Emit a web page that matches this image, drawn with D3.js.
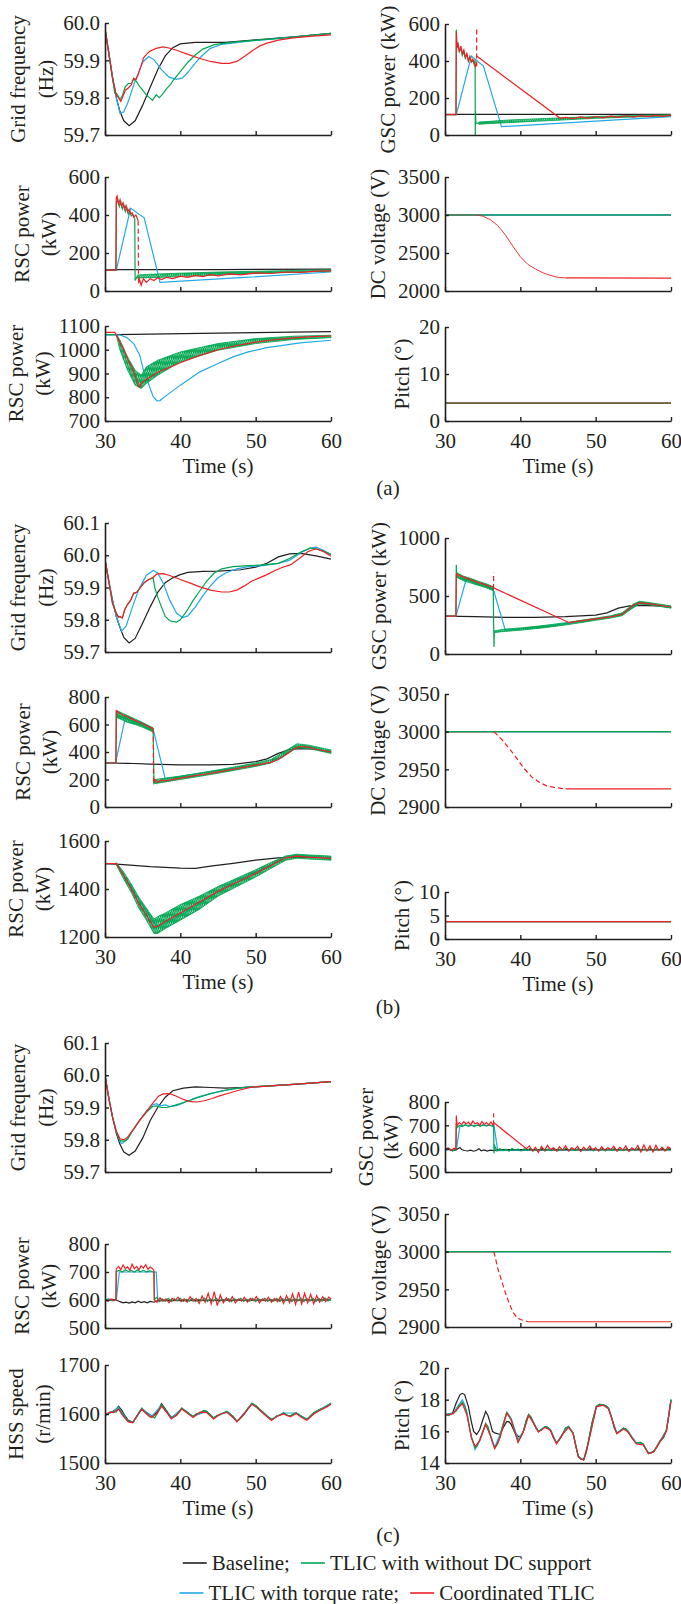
<!DOCTYPE html>
<html>
<head>
<meta charset="utf-8">
<script src="https://cdn.jsdelivr.net/npm/d3@7"></script>
<style>
  body { margin: 0; background: #fff; }
  svg { display: block; }
  text { font-family: "Liberation Serif", "Times New Roman", serif; fill: #231f20; }
</style>
</head>
<body>
<svg id="chart" width="681" height="1604"></svg>
<script>
// ---------- (a) ----------
const a1Base = [[30,59.985],[30.5,59.92],[31,59.855],[31.5,59.8],[32,59.762],[32.5,59.738],[33.2,59.725],[34,59.738],[35,59.78],[36,59.828],[37,59.875],[38,59.912],[39,59.934],[40,59.944],[42,59.948],[46,59.948],[50,59.955],[55,59.963],[60,59.972]];
const a1Blue = [[30,59.985],[30.5,59.92],[31,59.855],[31.5,59.8],[32,59.758],[32.5,59.762],[33,59.785],[34,59.845],[35,59.895],[35.8,59.91],[36.5,59.902],[37.5,59.875],[38.5,59.855],[39.5,59.849],[40.3,59.853],[41,59.868],[42,59.893],[43,59.915],[44,59.932],[45.5,59.943],[48,59.949],[52,59.957],[56,59.964],[60,59.972]];
const a1Green = [[30,59.985],[30.5,59.92],[31,59.85],[31.3,59.812],[31.6,59.81],[32,59.795],[32.3,59.805],[32.7,59.83],[33.1,59.838],[33.5,59.838],[33.8,59.85],[34.2,59.843],[34.6,59.83],[35,59.82],[35.5,59.807],[35.9,59.8],[36.3,59.793],[36.8,59.808],[37.2,59.8],[37.6,59.808],[38.2,59.825],[38.7,59.835],[39.1,59.848],[40,59.87],[41,59.895],[42,59.915],[43,59.93],[44.5,59.942],[47,59.949],[52,59.957],[56,59.964],[60,59.972]];
const a1Red = [[30,59.985],[30.5,59.92],[31,59.852],[31.5,59.807],[31.8,59.8],[32.1,59.79],[32.4,59.805],[32.7,59.82],[33.1,59.826],[33.5,59.835],[33.8,59.852],[34.1,59.848],[34.4,59.862],[34.8,59.885],[35.1,59.906],[35.6,59.918],[36,59.925],[36.8,59.932],[37.7,59.936],[38.5,59.933],[39.5,59.927],[41,59.916],[42.6,59.905],[44,59.897],[45.5,59.892],[46.5,59.892],[47.5,59.897],[48.5,59.91],[49.5,59.925],[50.5,59.938],[51.5,59.946],[53,59.954],[55,59.96],[57.5,59.965],[60,59.968]];

const a2Base = [[30,112],[45,113],[60,115]];
const a2Blue = [[30,110],[31.5,110],[33.4,435],[35.2,385],[37.3,45],[48,70],[60,100]];
const a2Green = [[30,110],[31.45,110],[31.5,470],[31.7,480],[31.9,445],[32.1,468],[32.3,432],[32.5,452],[32.7,418],[32.9,438],[33.1,405],[33.3,418],[33.5,395],[33.7,402],[33.95,380],[34,55],[34.3,78]];
const a2GreenBand = [[34.3,68,84],[36,70,88],[40,76,94],[45,84,100],[50,92,104],[55,98,108],[60,104,112]];
const a2Red = [[30,110],[31.45,110],[31.5,490],[31.6,500],[31.8,455],[32,480],[32.2,445],[32.4,465],[32.6,430],[32.8,450],[33,415],[33.2,430],[33.4,405],[33.6,412],[33.8,390],[34.1,400],[34.4,370]];
const a2RedDrop = [[34.4,370],[34.45,40]];
const a2RedTail = [[34.45,40],[34.6,60],[34.8,30],[35.1,65],[35.5,45],[36,65],[36.5,55],[37,70],[37.5,60],[38.2,72],[39,65],[40,78],[41,72],[42,82],[43,76],[44,86],[45,80],[46.5,90],[48,85],[50,95],[52,92],[54,100],[56,98],[58,105],[60,106]];

const a3Base = [[30,1064],[31.5,1064],[45,1070],[60,1076]];
const a3Blue = [[30,1063],[32,1062],[32.9,1051],[33.8,1026],[34.6,978],[35.1,914],[36.4,802],[36.9,785],[37.3,786],[38.2,809],[40,851],[42.6,907],[45,942],[47,970],[49,991],[51.5,1009],[55.9,1029],[60,1040]];
const a3GreenBand = [[31.5,1060,1066],[32,998,1040],[33,914,970],[34,851,914],[34.8,837,893],[35.5,858,928],[37,893,956],[40,949,991],[45,998,1026],[50,1026,1047],[55,1043,1057],[60,1051,1061]];
const a3Green = [[30,1064],[31.5,1064]];
const a3Red = [[30,1073],[31.3,1073],[31.5,1063],[32,1030],[32.5,1000],[33,960],[33.5,930],[34,892],[34.4,850],[34.6,842],[34.8,858],[35.2,868],[36,885],[37,905],[38.5,925],[40,945],[42.5,975],[45,1000],[47.5,1018],[50,1032],[52.5,1042],[55,1050],[57.5,1055],[60,1058]];

const a4Base = [[30,112],[60,112]];
const a4Blue = [[30,110],[31.5,110],[33.5,427],[35.1,373],[37.5,45],[60,99]];
const a4Green = [[30,110],[31.46,110],[31.5,570],[31.55,470],[31.7,500],[31.9,450],[32.1,470],[32.3,430],[32.5,450],[32.7,415],[32.9,435],[33.1,400],[33.3,420],[33.5,395],[33.7,400],[33.9,380],[34,410],[34.02,0],[34.05,130],[34.1,65],[34.5,64]];
const a4GreenBand = [[34.5,58,70],[36,62,74],[38,66,80],[40,70,84],[45,80,92],[50,90,100],[55,97,106],[60,103,110]];
const a4Red = [[30,110],[31.46,110],[31.5,560],[31.6,470],[31.7,500],[31.9,450],[32.1,480],[32.3,440],[32.5,460],[32.7,420],[32.9,440],[33.1,400],[33.3,425],[33.5,395],[33.7,410],[34,370],[34.2,390]];
const a4RedSpike = [[34.2,370],[34.2,580]];
const a4RedTail = [[34.2,427],[45.3,90],[46,95],[47,88],[48,98],[49,90],[50,100],[51,93],[52,102],[53,95],[54,104],[55,97],[56,105],[57,99],[58,106],[59,101],[60,107]];

const a5Flat = [[30,3000],[60,3000]];
const a5RedPre = [[30,3000],[34.2,3000]];
const a5RedFall = [[34.2,3000],[35,2985],[36,2940],[37,2860],[38,2740],[39,2590],[40,2450],[41,2350],[42,2290],[43,2240],[44,2205],[45,2180],[46,2172]];
const a5RedPost = [[46,2172],[60,2170]];

const a6Flat = [[30,3.8],[60,3.8]];

// ---------- (b) ----------
const b1Base = [[30,59.986],[30.5,59.92],[31,59.86],[31.5,59.81],[32,59.775],[32.5,59.745],[33.2,59.728],[34,59.742],[35,59.79],[36,59.84],[37,59.885],[38,59.915],[39,59.93],[40,59.94],[41,59.947],[43,59.95],[45,59.951],[48,59.955],[50,59.963],[51.5,59.975],[53,59.995],[54.5,60.004],[56,60.006],[58,59.998],[60,59.988]];
const b1Blue = [[30,59.986],[30.5,59.92],[31,59.86],[31.5,59.81],[32.2,59.765],[32.8,59.78],[33.5,59.83],[34.5,59.895],[35.5,59.938],[36.4,59.953],[37,59.945],[37.8,59.91],[38.6,59.86],[39.5,59.82],[40.3,59.807],[41,59.812],[42,59.84],[43,59.875],[44,59.905],[45,59.93],[46,59.945],[47.5,59.958],[49,59.965],[51,59.968],[53,59.975],[54.5,59.985],[56,60.008],[57.2,60.022],[58,60.025],[59,60.015],[60,60.002]];
const b1Green = [[30,59.986],[30.5,59.92],[31,59.85],[31.5,59.82],[31.8,59.808],[32,59.81],[32.3,59.805],[32.6,59.83],[33,59.848],[33.4,59.86],[33.8,59.882],[34.2,59.885],[34.7,59.9],[35.2,59.915],[35.8,59.925],[36.4,59.93],[36.6,59.9],[37,59.87],[37.5,59.84],[38,59.81],[38.6,59.797],[39,59.795],[39.5,59.793],[40,59.8],[40.8,59.825],[41.7,59.86],[42.6,59.89],[43.5,59.92],[44.5,59.945],[45.5,59.958],[47,59.965],[49,59.968],[51,59.97],[53,59.975],[54.5,59.99],[56,60.01],[57.2,60.022],[58,60.02],[59,60.012],[60,60.003]];
const b1Red = [[30,59.986],[30.5,59.92],[31,59.85],[31.5,59.82],[31.8,59.808],[32,59.81],[32.3,59.805],[32.6,59.83],[33,59.848],[33.4,59.86],[33.8,59.882],[34.2,59.885],[34.7,59.9],[35.2,59.915],[35.8,59.925],[36.4,59.932],[36.9,59.942],[37.7,59.943],[38.5,59.938],[40,59.925],[41.5,59.912],[42.6,59.902],[44,59.892],[45.5,59.886],[46.5,59.886],[47.5,59.892],[48.5,59.905],[49.5,59.92],[50.5,59.93],[51.5,59.94],[52.5,59.952],[53.5,59.962],[54.6,59.97],[55.8,59.99],[57,60.012],[58,60.02],[59,60.012],[60,59.997]];

const b2Base = [[30,320],[33,318],[36,312],[40,306],[44,306],[47,310],[50,330],[51.5,350],[53,390],[54.5,418],[56,425],[58,420],[60,405]];
const b2Blue = [[30,320],[31.4,320],[32.7,650],[36.4,565],[38,205],[42,240],[46,275],[50,300],[52,325],[53.5,360],[55,425],[56,440],[58,420],[60,400]];
const b2Green = [[30,320],[31.45,320],[31.5,700],[31.6,670],[36.4,555],[36.5,175],[36.6,185]];
const b2GreenBand = [[31.6,650,700],[32,640,690],[33,615,665],[34,600,640],[35,580,615],[36.4,545,575]];
const b2GreenBand2 = [[36.6,170,200],[40,200,225],[45,245,270],[50,295,320],[52,320,345],[54,380,410],[55.5,430,460],[57,425,450],[60,390,415]];
const b2Red = [[30,320],[31.45,320],[31.5,700],[32,680],[33,655],[34,630],[35,605],[36.4,570]];
const b2RedDrop = [[36.4,570],[36.45,175]];
const b2RedTail = [[36.45,175],[36.6,200],[37,180],[37.5,195],[38,190],[40,210],[42,228],[44,245],[46,265],[48,285],[50,305],[52,325],[53,345],[54,380],[55,420],[55.8,440],[57,435],[58,420],[60,400]];

const b3Base = [[30,1506],[32,1503],[36,1493],[40,1487],[42,1486],[44,1495],[47,1507],[50,1520],[53,1530],[56,1533],[60,1531]];
const b3Blue = [[30,1506],[31.5,1506],[36.5,1258],[37,1245],[38,1255],[40,1290],[42.6,1340],[45,1390],[47,1430],[49.5,1465],[51.5,1492],[53.7,1530],[55.5,1540],[57,1535],[60,1530]];
const b3GreenBand = [[31.5,1500,1510],[32.5,1440,1470],[33.5,1385,1420],[34.5,1320,1365],[35.5,1270,1320],[36.5,1215,1275],[37,1215,1285],[38,1235,1300],[40,1270,1335],[42.5,1315,1370],[45,1370,1410],[47.5,1410,1445],[50,1450,1480],[52,1485,1510],[54,1520,1538],[55.5,1528,1545],[57,1525,1542],[60,1520,1537]];
const b3Green = [[30,1506],[31.5,1506]];
const b3Red = [[30,1506],[31.5,1506],[32.5,1455],[33.5,1400],[34.5,1340],[35.5,1290],[36.5,1240],[37,1245],[38,1265],[40,1300],[42.5,1345],[45,1390],[47.5,1428],[50,1465],[52,1498],[54,1530],[55.5,1537],[57,1533],[60,1528]];

const b4Base = [[30,327],[34,322],[38,316],[42,315],[46,322],[50,335],[51.5,355],[53,395],[54.5,415],[56,420],[58,415],[60,405]];
const b4Blue = [[30,327],[31.45,327],[32.8,640],[36.4,560],[38,205],[42,228],[46,262],[50,300],[53,330],[55,400],[55.8,440],[57,430],[60,402]];
const b4Green = [[30,327],[31.45,327],[31.5,770],[31.55,670],[36.4,560],[36.5,60],[36.55,190]];
const b4GreenBand = [[31.55,660,700],[32.5,630,670],[33.5,610,650],[34.5,590,625],[35.5,570,605],[36.4,545,580]];
const b4GreenBand2 = [[36.55,185,200],[38,195,215],[40,205,225],[43,225,245],[46,250,270],[48,270,290],[50,290,310],[52,310,330],[53.5,330,355],[55,400,430],[55.8,430,455],[57,425,445],[60,395,415]];
const b4Red = [[30,327],[31.45,327],[31.5,690],[31.8,680],[33,650],[34.5,615],[36.4,575]];
const b4RedSpike = [[36.45,560],[36.45,700]];
const b4RedTail = [[36.45,570],[46.5,270],[48,285],[50,302],[52,320],[53.5,340],[55,420],[55.8,440],[57,435],[60,405]];

const b5Flat = [[30,3000],[60,3000]];
const b5RedPre = [[30,3000],[36.5,3000]];
const b5RedFall = [[36.5,3000],[37.5,2990],[38.5,2978],[39.5,2965],[40.5,2951],[41.5,2940],[42.5,2933],[43.5,2928],[44.5,2926],[46,2924]];
const b5RedPost = [[46,2924],[60,2924]];

const b6Flat = [[30,3.7],[60,3.7]];

// ---------- (c) ----------
const c1Base = [[30,60.0],[30.5,59.93],[31,59.87],[31.5,59.82],[32,59.785],[32.5,59.762],[33.2,59.752],[34,59.765],[35,59.805],[36,59.86],[37,59.9],[38,59.932],[39,59.952],[40.4,59.96],[42,59.964],[44,59.962],[46,59.96],[48,59.962],[50,59.965],[55,59.972],[60,59.98]];
const c1Blue = [[30,60.0],[30.5,59.93],[31,59.87],[31.5,59.825],[32,59.795],[32.2,59.788],[32.9,59.8],[33.7,59.83],[34.6,59.86],[35.5,59.888],[36.3,59.908],[36.8,59.912],[37.3,59.905],[38,59.908],[38.6,59.903],[39.5,59.906],[40.8,59.918],[42,59.93],[43.5,59.94],[45,59.948],[47,59.958],[49,59.963],[52,59.967],[56,59.973],[60,59.98]];
const c1Green = [[30,60.0],[30.5,59.93],[31,59.87],[31.5,59.825],[32,59.798],[32.5,59.795],[33,59.802],[33.7,59.83],[34.6,59.86],[35.5,59.885],[36.3,59.903],[36.8,59.905],[37.5,59.9],[38.2,59.9],[39,59.905],[40,59.912],[41,59.92],[42.5,59.932],[44,59.943],[45.5,59.952],[47,59.958],[49,59.963],[52,59.967],[56,59.973],[60,59.98]];
const c1Red = [[30,60.0],[30.5,59.93],[31,59.87],[31.5,59.826],[32,59.803],[32.5,59.8],[33,59.808],[33.7,59.83],[34.6,59.86],[35.5,59.888],[36.4,59.915],[37.1,59.935],[37.7,59.942],[38.6,59.943],[39.5,59.935],[40.4,59.925],[41.3,59.918],[42.2,59.917],[43.2,59.921],[44.2,59.928],[45.2,59.936],[46.5,59.945],[48,59.955],[49.5,59.963],[52,59.967],[56,59.973],[60,59.98]];

const c2Base = [[30,600],[30.5,598],[31,602],[31.5,600],[32,594],[32.4,590],[32.8,592],[33.2,589],[33.6,593],[34,590],[34.4,596],[34.8,591],[35.2,594],[35.6,590],[36,595],[36.5,592],[37,598],[60,600]];
const c2Blue = [[30,600],[31.5,600],[31.9,700],[36.8,700],[37,600],[60,600]];
const c2Green = [[30,600],[30.5,604],[31,597],[31.45,601],[31.5,702],[31.9,706],[32.3,700],[32.7,708],[33.1,702],[33.5,706],[33.9,700],[34.3,707],[34.7,701],[35.1,706],[35.5,700],[35.9,705],[36.3,701],[36.5,700],[36.55,602],[36.9,610],[37.2,594],[37.6,604],[38,596],[38.4,606],[38.8,594],[39.2,604],[39.6,597],[40,606],[40.4,595],[40.8,603],[41.2,596],[41.6,606],[42,594],[42.4,603],[42.8,597],[43.2,607],[43.6,594],[44,604],[44.4,596],[44.8,606],[45.2,594],[45.6,603],[46,597],[46.4,605],[46.8,594],[47.2,604],[47.6,597],[48,606],[48.4,595],[48.8,603],[49.2,596],[49.6,606],[50,594],[50.4,604],[50.8,597],[51.2,606],[51.6,595],[52,603],[52.4,596],[52.8,606],[53.2,594],[53.6,604],[54,597],[54.4,606],[54.8,594],[55.2,605],[55.6,596],[56,607],[56.4,594],[56.8,605],[57.2,596],[57.6,607],[58,594],[58.4,606],[58.8,596],[59.2,608],[59.6,597],[60,606]];
const c2Red = [[30,600],[30.4,596],[30.8,604],[31.2,598],[31.45,602],[31.5,712],[31.8,720],[32.1,708],[32.4,725],[32.7,712],[33,718],[33.3,706],[33.6,728],[33.9,712],[34.2,720],[34.5,708],[34.8,722],[35.1,714],[35.4,726],[35.7,710],[36,718],[36.3,712],[36.5,705],[36.55,600],[36.9,592],[37.3,608],[37.7,596],[38.1,604],[38.5,590],[38.9,606],[39.3,598],[39.7,610],[40.1,594],[40.5,604],[40.9,592],[41.3,612],[41.7,596],[42.1,606],[42.5,588],[42.9,614],[43.3,592],[43.7,624],[44.1,586],[44.5,630],[44.9,580],[45.3,618],[45.7,590],[46.1,608],[46.5,594],[46.9,612],[47.3,590],[47.7,604],[48.1,596],[48.5,610],[48.9,592],[49.3,606],[49.7,598],[50.1,612],[50.5,590],[50.9,604],[51.3,596],[51.7,610],[52.1,592],[52.5,606],[52.9,594],[53.3,612],[53.7,588],[54.1,616],[54.5,590],[54.9,622],[55.3,584],[55.7,628],[56.1,586],[56.5,624],[56.9,590],[57.3,620],[57.7,586],[58.1,616],[58.5,592],[58.9,612],[59.3,594],[59.7,610],[60,604]];

const c3Green = [[30,1597],[30.5,1602],[31.1,1605],[31.5,1604],[31.8,1612],[32.2,1602],[32.6,1594],[33.1,1585],[33.7,1583],[34.2,1595],[34.6,1606],[34.9,1612],[35.2,1604],[35.5,1602],[35.9,1594],[36.2,1595],[36.6,1592],[36.9,1600],[37.2,1608],[37.5,1619],[37.8,1612],[38.2,1605],[38.5,1598],[38.8,1592],[39.1,1594],[39.5,1597],[39.9,1606],[40.2,1612],[40.5,1608],[40.8,1605],[41.2,1600],[41.7,1595],[42.1,1600],[42.6,1602],[43.1,1607],[43.5,1605],[44,1598],[44.4,1592],[44.8,1596],[45.3,1599],[45.7,1602],[46.2,1605],[46.6,1600],[47,1595],[47.5,1585],[47.9,1590],[48.4,1598],[48.9,1610],[49.5,1622],[50.1,1616],[50.5,1610],[51,1603],[51.5,1596],[52.1,1589],[52.5,1592],[52.8,1596],[53.2,1598],[53.7,1602],[54.1,1598],[54.6,1596],[55,1600],[55.4,1602],[55.8,1598],[56.1,1595],[56.5,1592],[56.8,1589],[57.2,1595],[57.7,1602],[58.1,1606],[58.5,1609],[59,1612],[59.5,1617],[60,1622]];
const c3BaseHead = [[30,1597],[30.5,1602],[31.1,1606],[31.5,1610],[31.8,1616],[32.2,1608],[32.6,1598],[33.1,1587],[33.7,1583],[34.2,1594],[34.9,1611],[35.5,1603],[36.2,1596],[36.9,1603],[37.5,1621],[38.2,1606],[38.8,1593],[39.5,1598]];
const c3Blue = [[30,1597],[31.1,1605],[31.8,1614],[32.2,1604],[33.1,1585],[33.7,1583],[34.9,1611],[36.2,1595],[37.5,1618],[38.8,1592],[40.2,1611],[41.7,1595],[43.5,1605],[44.4,1592],[46.2,1605],[47.5,1585],[49.5,1621],[52.1,1589],[53.7,1602],[55.4,1602],[56.8,1589],[58.5,1609],[60,1622]];
const c3Red = [[30,1598],[30.6,1604],[31.1,1603],[31.8,1610],[32.2,1600],[32.6,1592],[33.1,1584],[33.7,1582],[34.2,1596],[34.9,1610],[35.5,1600],[36.2,1593],[36.9,1601],[37.5,1616],[38.2,1603],[38.8,1590],[39.5,1598],[40.2,1610],[40.8,1603],[41.7,1593],[42.6,1604],[43.5,1603],[44.4,1590],[45.3,1600],[46.2,1603],[47,1593],[47.5,1584],[48.4,1599],[49.5,1620],[50.1,1614],[51,1601],[52.1,1587],[52.8,1595],[53.7,1600],[54.6,1594],[55.4,1601],[56.1,1593],[56.8,1587],[57.7,1600],[58.5,1607],[59.5,1615],[60,1620]];

const c4Base = [[30,595],[30.5,600],[31,592],[31.5,596],[32,605],[32.2,596],[32.6,592],[33,590],[33.4,594],[33.8,589],[34.2,593],[34.5,600],[34.8,591],[35.2,595],[35.6,590],[36,594],[36.5,592],[37,596],[60,596]];
const c4Blue = [[30,595],[31.5,595],[32,700],[36.5,700],[37,592],[60,595]];
const c4Green = [[30,595],[30.5,600],[31,590],[31.45,598],[31.5,705],[31.6,690],[31.9,700],[32.3,695],[32.7,703],[33.1,696],[33.5,701],[33.9,695],[34.3,702],[34.7,696],[35.1,703],[35.5,697],[35.9,702],[36.3,696],[36.45,700],[36.5,580],[36.6,612],[36.9,590],[37.3,600],[37.7,592],[38.1,598],[38.5,589],[38.9,601],[39.3,593],[39.7,599],[40.1,590],[40.5,600],[40.9,592],[41.3,602],[41.7,590],[42.1,598],[42.5,593],[42.9,603],[43.3,590],[43.7,599],[44.1,592],[44.5,601],[44.9,590],[45.3,598],[45.7,593],[46.1,604],[46.5,591],[46.9,599],[47.3,592],[47.7,601],[48.1,590],[48.5,599],[48.9,593],[49.3,603],[49.7,591],[50.1,598],[50.5,592],[50.9,601],[51.3,590],[51.7,599],[52.1,593],[52.5,602],[52.9,590],[53.3,598],[53.7,592],[54.1,601],[54.5,590],[54.9,600],[55.3,593],[55.7,603],[56.1,591],[56.5,599],[56.9,592],[57.3,602],[57.7,590],[58.1,600],[58.5,593],[58.9,604],[59.3,592],[59.7,601],[60,598]];
const c4Red = [[30,596],[30.4,604],[30.8,592],[31.2,602],[31.45,598],[31.5,742],[31.6,700],[31.9,712],[32.2,704],[32.5,716],[32.8,706],[33.1,714],[33.4,702],[33.7,718],[34,706],[34.3,712],[34.6,700],[34.9,716],[35.2,704],[35.5,712],[35.8,702],[36.1,714],[36.4,700]];
const c4RedSpike = [[36.45,700],[36.45,752]];
const c4RedTail = [[36.45,712],[40.8,600],[41.2,612],[41.6,590],[42,606],[42.4,584],[42.8,610],[43.2,592],[43.6,614],[44,596],[44.4,604],[44.8,590],[45.2,608],[45.6,594],[46,612],[46.4,590],[46.8,604],[47.2,596],[47.6,610],[48,588],[48.4,606],[48.8,594],[49.2,612],[49.6,596],[50,604],[50.4,590],[50.8,608],[51.2,594],[51.6,604],[52,596],[52.4,610],[52.8,590],[53.2,606],[53.6,594],[54,612],[54.4,588],[54.8,604],[55.2,594],[55.6,614],[56,586],[56.4,616],[56.8,590],[57.2,612],[57.6,586],[58,614],[58.4,592],[58.8,606],[59.2,590],[59.6,608],[60,600]];

const c5Flat = [[30,3000],[60,3000]];
const c5RedPre = [[30,3000],[36.5,3000]];
const c5RedFall = [[36.5,3000],[37,2978],[37.5,2962],[38,2946],[38.5,2932],[39,2920],[39.5,2913],[40,2910],[41,2907]];
const c5RedPost = [[41,2907],[60,2907]];

const c6Green = [[30,17.05],[30.5,17.0],[31.1,17.16],[31.5,17.3],[31.8,17.58],[32.3,17.84],[32.6,17.6],[32.9,17.16],[33.2,16.4],[33.5,15.68],[34,14.95],[34.3,15.1],[34.6,15.47],[35,16.0],[35.4,16.5],[35.7,16.3],[36,15.8],[36.3,15.3],[36.6,14.95],[37,15.2],[37.3,15.7],[37.8,16.6],[38.2,17.2],[38.5,17.0],[38.8,16.74],[39.2,16.0],[39.7,15.37],[40,15.6],[40.4,16.0],[40.8,16.7],[41.1,17.05],[41.4,16.9],[41.7,16.6],[42.1,16.2],[42.4,16.0],[42.8,16.1],[43.3,16.3],[43.6,16.25],[44,16.1],[44.4,15.6],[44.8,15.26],[45.2,15.5],[45.7,15.9],[46,16.2],[46.4,16.3],[46.7,16.1],[47,15.9],[47.4,15.0],[47.7,14.42],[48,14.25],[48.4,14.2],[48.7,14.6],[49,15.26],[49.5,16.5],[50.1,17.58],[50.5,17.7],[51,17.68],[51.4,17.6],[51.7,17.47],[52.1,16.9],[52.5,16.2],[52.8,15.9],[53.2,16.0],[53.7,16.2],[54,16.15],[54.3,16.0],[54.8,15.6],[55.4,15.26],[55.9,15.3],[56.3,15.2],[56.7,14.85],[57,14.63],[57.4,14.65],[57.7,14.73],[58.1,15.0],[58.5,15.37],[59,15.6],[59.4,16.1],[59.7,17.0],[60,18.0]];
const c6Red = [[30,17.0],[31.1,17.12],[31.8,17.5],[32.3,17.75],[32.9,17.05],[33.5,15.6],[34,15.05],[34.6,15.4],[35.4,16.45],[36,15.75],[36.6,14.9],[37.3,15.6],[38.2,17.15],[38.8,16.7],[39.7,15.3],[40.4,15.95],[41.1,17.0],[41.7,16.55],[42.4,15.95],[43.3,16.25],[44,16.05],[44.8,15.2],[45.7,15.85],[46.4,16.25],[47,15.85],[47.7,14.38],[48.4,14.18],[49,15.2],[50.1,17.55],[51,17.65],[51.7,17.42],[52.8,15.85],[53.7,16.15],[54.3,15.95],[55.4,15.2],[56.3,15.15],[57,14.58],[57.7,14.7],[58.5,15.3],[59.4,16.0],[60,17.9]];
const c6Blue = [[30,17.05],[31.1,17.16],[31.8,17.65],[32.3,18.0],[32.6,17.7],[32.9,17.2],[33.5,15.6],[34,14.85],[34.6,15.4],[35.4,16.45],[36,15.8],[36.6,15.0],[37.3,15.8],[38.2,17.2],[38.8,16.8],[39.7,15.5],[40.4,16.0],[41.1,17.05],[41.7,16.6],[42.4,16.0],[43.3,16.3],[44,16.1],[44.8,15.26],[45.7,15.9],[46.4,16.3],[47,15.9],[47.7,14.42],[48.4,14.2],[49,15.26],[50.1,17.58],[51,17.68],[51.7,17.47],[52.8,15.9],[53.7,16.2],[54.3,16.0],[55.4,15.26],[56.3,15.2],[57,14.63],[57.7,14.73],[58.5,15.37],[59.4,16.1],[60,18.0]];
const c6BaseHead = [[30,17.05],[31,17.15],[31.5,17.8],[32,18.32],[32.3,18.4],[32.6,18.32],[33.1,17.58],[33.5,16.6],[33.8,16.0],[34.2,15.8],[34.6,16.1],[35,16.7],[35.4,17.25],[35.7,17.0],[36,16.53],[36.3,16.0],[36.6,15.9],[37,15.85],[37.3,15.8],[37.8,16.3],[38.2,16.63],[38.5,16.6],[38.8,16.42],[39.2,16.0],[39.7,15.68],[40.1,15.7],[40.4,16.0]];

const timeTicks = [30, 40, 50, 60];
const legendRows = [
  [{k: "k", t: "Baseline;"}, {k: "g", t: "TLIC with without DC support"}],
  [{k: "b", t: "TLIC with torque rate;"}, {k: "r", t: "Coordinated TLIC"}]
];

// ---------- drawing ----------
const COL = {k: "#231f20", g: "#00a650", b: "#22aae6", r: "#ee2026"};
const colX = [[105, 331], [445, 671]];
const FS = 21;

const L = (d, k, extra) => Object.assign({d, k}, extra || {});
const B = (band, k) => ({band, k});

const panels = [
  {col:0, top:23, bot:135, dom:[59.7,60.0], ticks:[59.7,59.8,59.9,60.0], fmt:".1f", lab:["Grid frequency","(Hz)"], lx:[18,46],
   series:[L(a1Base,"k"), L(a1Blue,"b"), L(a1Green,"g"), L(a1Red,"r")]},
  {col:0, top:177, bot:291, dom:[0,600], ticks:[0,200,400,600], lab:["RSC power","(kW)"], lx:[22,49],
   series:[L(a2Base,"k"), L(a2Blue,"b"), L(a2Green,"g"), B(a2GreenBand,"g"), L(a2Red,"r"), L(a2RedDrop,"r",{dash:true}), L(a2RedTail,"r")]},
  {col:0, top:326, bot:421, dom:[700,1100], ticks:[700,800,900,1000,1100], lab:["RSC power","(kW)"], lx:[16,43], xlab:true,
   series:[L(a3Base,"k"), L(a3Blue,"b"), L(a3Green,"g"), B(a3GreenBand,"g"), L(a3Red,"r")]},
  {col:1, top:24, bot:135, dom:[0,600], ticks:[0,200,400,600], lab:["GSC power (kW)"], lx:[388],
   series:[L(a4Base,"k"), L(a4Blue,"b"), L(a4Green,"g"), B(a4GreenBand,"g"), L(a4Red,"r"), L(a4RedSpike,"r",{dash:true}), L(a4RedTail,"r")]},
  {col:1, top:177, bot:291, dom:[2000,3500], ticks:[2000,2500,3000,3500], lab:["DC voltage (V)"], lx:[378],
   series:[L(a5Flat,"k"), L(a5Flat,"b"), L(a5RedPre,"r",{op:0.7}), L(a5Flat,"g"), L(a5RedFall,"r",{w:0.9}), L(a5RedPost,"r")]},
  {col:1, top:327, bot:421, dom:[0,20], ticks:[0,10,20], lab:["Pitch (°)"], lx:[402], xlab:true,
   series:[L(a6Flat,"k"), L(a6Flat,"g"), L(a6Flat,"r",{op:0.6})]},

  {col:0, top:523, bot:652, dom:[59.7,60.1], ticks:[59.7,59.8,59.9,60.0,60.1], fmt:".1f", lab:["Grid frequency","(Hz)"], lx:[18,46],
   series:[L(b1Base,"k"), L(b1Blue,"b"), L(b1Green,"g"), L(b1Red,"r")]},
  {col:0, top:697, bot:807, dom:[0,800], ticks:[0,200,400,600,800], lab:["RSC power","(kW)"], lx:[23,50],
   series:[L(b2Base,"k"), L(b2Blue,"b"), L(b2Green,"g"), B(b2GreenBand,"g"), B(b2GreenBand2,"g"), L(b2Red,"r"), L(b2RedDrop,"r",{dash:true}), L(b2RedTail,"r")]},
  {col:0, top:841, bot:937, dom:[1200,1600], ticks:[1200,1400,1600], lab:["RSC power","(kW)"], lx:[16,43], xlab:true,
   series:[L(b3Base,"k"), L(b3Blue,"b"), L(b3Green,"g"), B(b3GreenBand,"g"), L(b3Red,"r")]},
  {col:1, top:538, bot:654, dom:[0,1000], ticks:[0,500,1000], lab:["GSC power (kW)"], lx:[379],
   series:[L(b4Base,"k"), L(b4Blue,"b"), L(b4Green,"g"), B(b4GreenBand,"g"), B(b4GreenBand2,"g"), L(b4Red,"r"), L(b4RedSpike,"r",{dash:true}), L(b4RedTail,"r")]},
  {col:1, top:694, bot:807, dom:[2900,3050], ticks:[2900,2950,3000,3050], lab:["DC voltage (V)"], lx:[378],
   series:[L(b5Flat,"k"), L(b5Flat,"b"), L(b5RedPre,"r"), L(b5Flat,"g"), L(b5RedFall,"r",{dash:true}), L(b5RedPost,"r")]},
  {col:1, top:892, bot:939, dom:[0,10], ticks:[0,5,10], lab:["Pitch (°)"], lx:[402], xlab:true,
   series:[L(b6Flat,"k"), L(b6Flat,"g"), L(b6Flat,"r")]},

  {col:0, top:1043, bot:1172, dom:[59.7,60.1], ticks:[59.7,59.8,59.9,60.0,60.1], fmt:".1f", lab:["Grid frequency","(Hz)"], lx:[18,46],
   series:[L(c1Base,"k"), L(c1Blue,"b"), L(c1Green,"g"), L(c1Red,"r")]},
  {col:0, top:1244, bot:1328, dom:[500,800], ticks:[500,600,700,800], lab:["RSC power","(kW)"], lx:[22,49],
   series:[L(c2Blue,"b"), L(c2Base,"k"), L(c2Green,"g"), L(c2Red,"r")]},
  {col:0, top:1365, bot:1463, dom:[1500,1700], ticks:[1500,1600,1700], lab:["HSS speed","(r/min)"], lx:[16,43], xlab:true,
   series:[L(c3BaseHead.concat(c3Green.filter(d => d[0] > 39.5)),"k"), L(c3Blue,"b"), L(c3Green,"g"), L(c3Red,"r")]},
  {col:1, top:1102, bot:1172, dom:[500,800], ticks:[500,600,700,800], lab:["GSC power","(kW)"], lx:[366,391],
   series:[L(c4Blue,"b"), L(c4Base,"k"), L(c4Green,"g"), L(c4Red,"r"), L(c4RedSpike,"r",{dash:true}), L(c4RedTail,"r")]},
  {col:1, top:1214, bot:1327, dom:[2900,3050], ticks:[2900,2950,3000,3050], lab:["DC voltage (V)"], lx:[379],
   series:[L(c5Flat,"k"), L(c5Flat,"b"), L(c5RedPre,"r"), L(c5Flat,"g"), L(c5RedFall,"r",{dash:true}), L(c5RedPost,"r")]},
  {col:1, top:1368, bot:1463, dom:[14,20], ticks:[14,16,18,20], lab:["Pitch (°)"], lx:[402], xlab:true,
   series:[L(c6BaseHead.concat(c6Green.filter(d => d[0] > 40.5)),"k"), L(c6Blue,"b"), L(c6Green,"g"), L(c6Red,"r")]}
];

const captions = [{t:"(a)", y:488}, {t:"(b)", y:1007}, {t:"(c)", y:1535}];

const svg = d3.select("#chart");

// zig-zag texture for the densely oscillating green traces
const defs = svg.append("defs");
defs.append("pattern").attr("id", "zigG").attr("patternUnits", "userSpaceOnUse")
  .attr("width", 2.2).attr("height", 6)
  .append("path").attr("d", "M0,6 L1.1,0 L2.2,6")
  .attr("fill", "none").attr("stroke", COL.g).attr("stroke-width", 1);

panels.forEach((p, i) => {
  const [x0, x1] = colX[p.col];
  const x = d3.scaleLinear().domain([30, 60]).range([x0, x1]);
  const y = d3.scaleLinear().domain(p.dom).range([p.bot, p.top]);
  const g = svg.append("g");

  g.append("clipPath").attr("id", "clip" + i)
    .append("rect").attr("x", x0).attr("y", p.top - 6).attr("width", x1 - x0 + 2).attr("height", p.bot - p.top + 7);
  const plot = g.append("g").attr("clip-path", `url(#clip${i})`);

  const line = d3.line().x(d => x(d[0])).y(d => y(d[1]));
  const area = d3.area().x(d => x(d[0])).y0(d => y(d[1])).y1(d => y(d[2]));

  p.series.forEach(s => {
    if (s.band) {
      plot.append("path").datum(s.band).attr("d", area)
        .attr("fill", COL[s.k]).attr("fill-opacity", 0.45).attr("stroke", "none");
      plot.append("path").datum(s.band).attr("d", area)
        .attr("fill", "url(#zigG)")
        .attr("stroke", COL[s.k]).attr("stroke-width", 0.8);
    } else {
      plot.append("path").datum(s.d).attr("d", line)
        .attr("fill", "none").attr("stroke", COL[s.k])
        .attr("stroke-width", s.w || 1.2)
        .attr("stroke-opacity", s.op || 1)
        .attr("stroke-dasharray", s.dash ? "5,3" : null);
    }
  });

  // axes with inward ticks
  const yAxis = d3.axisLeft(y).tickValues(p.ticks).tickSize(-4).tickSizeOuter(0).tickPadding(5)
    .tickFormat(p.fmt ? d3.format(p.fmt) : d3.format("d"));
  const ya = g.append("g").attr("transform", `translate(${x0},0)`).call(yAxis);

  const xAxis = d3.axisBottom(x).tickValues(timeTicks).tickSize(-4).tickSizeOuter(0).tickPadding(12)
    .tickFormat(p.xlab ? d3.format("d") : () => "");
  const xa = g.append("g").attr("transform", `translate(0,${p.bot})`).call(xAxis);

  [ya, xa].forEach(a => {
    a.attr("font-family", null);
    a.select(".domain").attr("stroke", COL.k).attr("stroke-width", 1.6);
    a.selectAll(".tick line").attr("stroke", COL.k).attr("stroke-width", 1.4);
    a.selectAll("text").style("font-family", '"Liberation Serif", serif').style("font-size", FS + "px").attr("fill", COL.k);
  });

  if (p.xlab) {
    g.append("text").attr("x", (x0 + x1) / 2).attr("y", p.bot + 52)
      .attr("text-anchor", "middle").style("font-size", FS + "px").text("Time (s)");
  }

  const my = (p.top + p.bot) / 2;
  p.lab.forEach((t, j) => {
    g.append("text")
      .attr("transform", `translate(${p.lx[j]},${my}) rotate(-90)`)
      .attr("text-anchor", "middle").attr("dominant-baseline", "central")
      .style("font-size", FS + "px").text(t);
  });
});

captions.forEach(c => {
  svg.append("text").attr("x", 388).attr("y", c.y).attr("text-anchor", "middle")
    .attr("dominant-baseline", "central").style("font-size", FS + "px").text(c.t);
});

// legend
const legY = [1563, 1593];
legendRows.forEach((row, r) => {
  const grp = svg.append("g");
  let cx = 0;
  row.forEach((it, j) => {
    if (j > 0) cx += 11;
    grp.append("line").attr("x1", cx).attr("x2", cx + 24).attr("y1", 0).attr("y2", 0)
      .attr("stroke", COL[it.k]).attr("stroke-width", 1.6);
    cx += 29;
    const t = grp.append("text").attr("x", cx).attr("y", 0).attr("dominant-baseline", "central")
      .style("font-size", FS + "px").text(it.t);
    cx += t.node().getComputedTextLength();
  });
  grp.attr("transform", `translate(${387 - cx / 2},${legY[r]})`);
});
</script>
</body>
</html>
